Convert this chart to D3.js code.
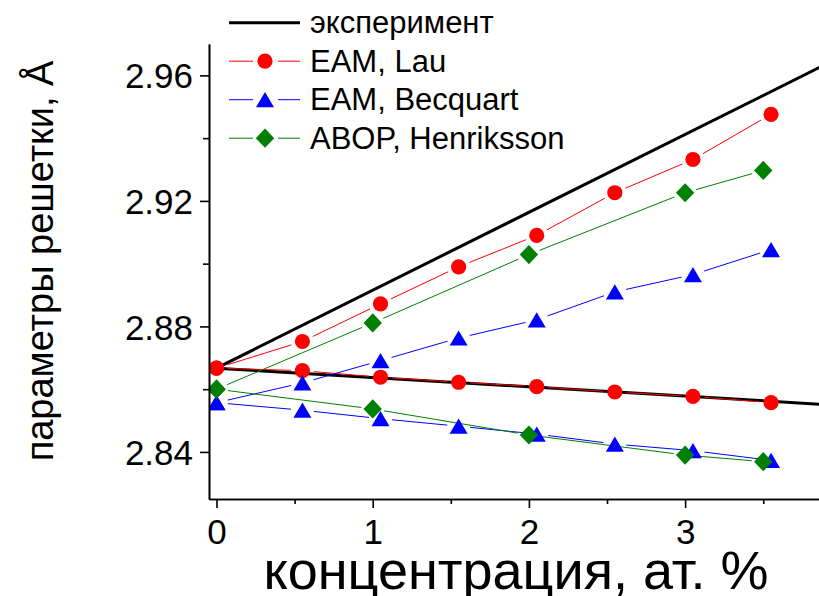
<!DOCTYPE html>
<html>
<head>
<meta charset="utf-8">
<script src="https://cdn.jsdelivr.net/npm/d3@7"></script>
<style>
  html, body { margin: 0; padding: 0; background: #fff; }
  svg { display: block; font-family: "Liberation Sans", Arial, sans-serif; }
</style>
</head>
<body>
<svg id="chart" width="819" height="596"></svg>
<script>
// Concentration (at. %) of the experimental fit lines and of each model
const concExp = [0, 4];
const concLau = [0, 0.55, 1.05, 1.55, 2.05, 2.55, 3.05, 3.55];
const concBecquart = [0, 0.55, 1.05, 1.55, 2.05, 2.55, 3.05, 3.55];
const concHenriksson = [0, 1, 2, 3, 3.5];

// Lattice parameters, Å (two branches for each model)
const expUpper = [2.8667, 2.966];
const expLower = [2.8667, 2.8548];
const lauUpper = [2.8667, 2.8752, 2.8872, 2.899, 2.909, 2.9226, 2.9332, 2.9476];
const lauLower = [2.8667, 2.8659, 2.8638, 2.8622, 2.8608, 2.8591, 2.8577, 2.8557];
const becquartUpper = [2.8557, 2.862, 2.8691, 2.8763, 2.8821, 2.891, 2.8965, 2.9045];
const becquartLower = [2.8557, 2.8533, 2.8506, 2.8482, 2.8457, 2.8425, 2.8404, 2.8373];
const henrikssonUpper = [2.86, 2.8811, 2.9029, 2.9226, 2.9297];
const henrikssonLower = [2.86, 2.8537, 2.8454, 2.839, 2.8369];

// Axis ticks and labels
const xMajor = [0, 1, 2, 3];
const xMinor = [0.5, 1.5, 2.5, 3.5];
const yMajor = [2.84, 2.88, 2.92, 2.96];
const yMinor = [2.86, 2.90, 2.94];
const legendLabels = ["эксперимент", "EAM, Lau", "EAM, Becquart", "ABOP, Henriksson"];
const xTitle = "концентрация, ат. %";
const yTitle = "параметры решетки, Å";

const svg = d3.select("#chart");
const plotLeft = 209, plotRight = 819, plotTop = 44, plotBottom = 499;

const x = d3.scaleLinear().domain([-0.048, 3.857]).range([plotLeft, plotRight]);
const y = d3.scaleLinear().domain([2.825, 2.970]).range([plotBottom, plotTop]);

svg.append("defs").append("clipPath").attr("id", "plotClip")
  .append("rect").attr("x", plotLeft).attr("y", plotTop - 10)
  .attr("width", plotRight - plotLeft).attr("height", plotBottom - plotTop + 10);

const zip = (xs, ys) => xs.map((v, i) => [v, ys[i]]);

// Marker shapes
function marker(g, kind, cx, cy, color) {
  if (kind === "circle") {
    g.append("circle").attr("cx", cx).attr("cy", cy).attr("r", 7.6).attr("fill", color);
  } else if (kind === "triangle") {
    g.append("path").attr("d", `M${cx},${cy - 7.6}L${cx + 9},${cy + 7.6}L${cx - 9},${cy + 7.6}Z`).attr("fill", color);
  } else {
    g.append("path").attr("d", `M${cx},${cy - 9.6}L${cx + 9.2},${cy}L${cx},${cy + 9.6}L${cx - 9.2},${cy}Z`).attr("fill", color);
  }
}

// Connecting line broken around each marker
function gappedLine(g, pts, color, gap) {
  for (let i = 0; i < pts.length - 1; i++) {
    const [x0, y0] = [x(pts[i][0]), y(pts[i][1])];
    const [x1, y1] = [x(pts[i + 1][0]), y(pts[i + 1][1])];
    const len = Math.hypot(x1 - x0, y1 - y0);
    if (len <= 2 * gap) continue;
    const ux = (x1 - x0) / len, uy = (y1 - y0) / len;
    g.append("line")
      .attr("x1", x0 + ux * gap).attr("y1", y0 + uy * gap)
      .attr("x2", x1 - ux * gap).attr("y2", y1 - uy * gap)
      .attr("stroke", color).attr("stroke-width", 1);
  }
}

const plot = svg.append("g").attr("clip-path", "url(#plotClip)");
const line = d3.line().x(d => x(d[0])).y(d => y(d[1]));

// Experimental lines
[expUpper, expLower].forEach(ys => {
  plot.append("path").datum(zip(concExp, ys)).attr("d", line)
    .attr("fill", "none").attr("stroke", "#000").attr("stroke-width", 3);
});

const series = [
  { xs: concLau, branches: [lauUpper, lauLower], color: "#ff0000", kind: "circle" },
  { xs: concBecquart, branches: [becquartUpper, becquartLower], color: "#0000ff", kind: "triangle" },
  { xs: concHenriksson, branches: [henrikssonUpper, henrikssonLower], color: "#008000", kind: "diamond" }
];

series.forEach(s => {
  s.branches.forEach(ys => gappedLine(plot, zip(s.xs, ys), s.color, 11.5));
});
series.forEach(s => {
  s.branches.forEach(ys => {
    zip(s.xs, ys).forEach(p => marker(plot, s.kind, x(p[0]), y(p[1]), s.color));
  });
});

// Axes
const axisStyle = g => {
  g.select(".domain").attr("stroke-width", 1.6);
  g.selectAll(".tick line").attr("stroke-width", 1.6);
};

svg.append("g").attr("transform", `translate(0,${plotBottom})`)
  .call(d3.axisBottom(x).tickValues(xMinor).tickSize(5).tickSizeOuter(0).tickFormat(""))
  .call(axisStyle);
const gx = svg.append("g").attr("transform", `translate(0,${plotBottom})`)
  .call(d3.axisBottom(x).tickValues(xMajor).tickSize(9).tickSizeOuter(0).tickFormat(d3.format("d")))
  .call(axisStyle);
gx.selectAll(".tick text").attr("y", 45).attr("dy", 0)
  .attr("font-size", 35).attr("fill", "#000").attr("font-family", "Liberation Sans, Arial, sans-serif");

svg.append("g").attr("transform", `translate(${plotLeft},0)`)
  .call(d3.axisLeft(y).tickValues(yMinor).tickSize(6).tickSizeOuter(0).tickFormat(""))
  .call(axisStyle);
const gy = svg.append("g").attr("transform", `translate(${plotLeft},0)`)
  .call(d3.axisLeft(y).tickValues(yMajor).tickSize(9).tickSizeOuter(0).tickFormat(d3.format(".2f")))
  .call(axisStyle);
gy.selectAll(".tick text").attr("x", -16).attr("dy", "0.36em")
  .attr("font-size", 35).attr("fill", "#000").attr("font-family", "Liberation Sans, Arial, sans-serif");

// Axis titles
svg.append("text").attr("x", 516).attr("y", 589).attr("text-anchor", "middle")
  .attr("font-size", 54).text(xTitle);
svg.append("text").attr("transform", "translate(53,261) rotate(-90)").attr("text-anchor", "middle")
  .attr("font-size", 38).text(yTitle);

// Legend
const legend = svg.append("g");
const rowY = i => 22.7 + i * 38.5;
legend.append("line").attr("x1", 229).attr("x2", 300).attr("y1", rowY(0)).attr("y2", rowY(0))
  .attr("stroke", "#000").attr("stroke-width", 3);
series.forEach((s, i) => {
  const cy = rowY(i + 1);
  legend.append("line").attr("x1", 229).attr("x2", 253).attr("y1", cy).attr("y2", cy)
    .attr("stroke", s.color).attr("stroke-width", 1);
  legend.append("line").attr("x1", 278).attr("x2", 300).attr("y1", cy).attr("y2", cy)
    .attr("stroke", s.color).attr("stroke-width", 1);
  marker(legend, s.kind, 265, cy, s.color);
});
legendLabels.forEach((t, i) => {
  legend.append("text").attr("x", 310).attr("y", rowY(i) + 10.5)
    .attr("font-size", 31).text(t);
});
</script>
</body>
</html>
